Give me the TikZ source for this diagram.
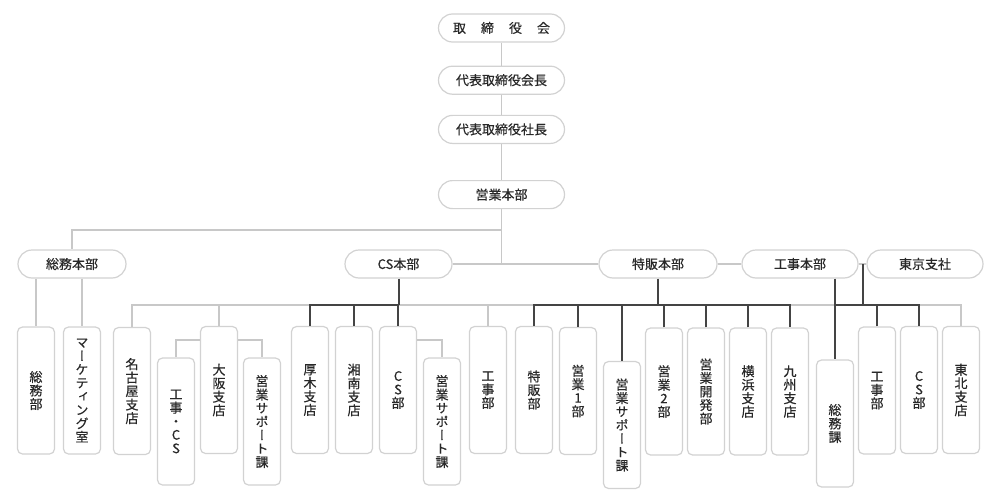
\documentclass[tikz,border=0pt]{standalone}
\usepackage{fontspec}
\setmainfont{Noto Sans CJK JP}[FakeBold=0.4]
\newfontfamily\tatefont[RawFeature=+vert, FakeBold=0.4]{Noto Sans CJK JP}
\usepackage{tikz}
\usetikzlibrary{positioning, calc}
\definecolor{mygray}{RGB}{200,200,200}
\definecolor{mydark}{RGB}{68,68,68}
\definecolor{myborder}{RGB}{210,210,210}
\definecolor{mytext}{RGB}{40,40,40}

\begin{document}
\begin{tikzpicture}[x=1pt, y=-1pt,
    pill/.style={draw=myborder, line width=1.2pt, fill=white, rounded corners=14pt, minimum width=#1, minimum height=28pt, inner sep=0pt, text=mytext, font=\fontsize{13}{15}\selectfont},
    pill/.default=126pt,
    tate/.style={draw=myborder, line width=1.2pt, fill=white, rounded corners=5pt, minimum width=37pt, minimum height=127pt, inner sep=0pt, align=center, text=mytext, font=\tatefont\fontsize{13}{13.5}\selectfont},
    conn/.style={draw=mygray, line width=1.8pt},
    conndark/.style={draw=mydark, line width=2pt}]
    \useasboundingbox (0,0) rectangle (1000,500);

    % Top of the chart
    \node[pill] (board) at (501.5,28) {取\hspace{15pt}締\hspace{15pt}役\hspace{15pt}会};
    \node[pill, below=23pt of board] (chairman) {代表取締役会長};
    \node[pill, below=20pt of chairman] (president) {代表取締役社長};
    \node[pill, below=36pt of president] (salesHQ) {営業本部};

    % Head offices
    \node[pill=108pt] (generalHQ) at (72,264) {総務本部};
    \node[pill=107pt] (csHQ) at (398.5,264) {CS本部};
    \node[pill=118pt] (specialHQ) at (658,264) {特販本部};
    \node[pill=116pt] (constrHQ) at (800,264) {工事本部};
    \node[pill=116pt] (tokyo) at (925,264) {東京支社};

    % Departments and branches (vertical text)
    \node[tate] (soumu) at (36,390.5) {総\\務\\部};
    \node[tate] (marketing) at (82,390.5) {マ\\ー\\ケ\\テ\\ィ\\ン\\グ\\室};
    \node[tate] (nagoya) at (132,391) {名\\古\\屋\\支\\店};
    \node[tate] (kojiCS) at (176,421.5) {工\\事\\・\\C\\S};
    \node[tate] (osaka) at (219,390) {大\\阪\\支\\店};
    \node[tate] (osakaSupport) at (262,421.5) {営\\業\\サ\\ポ\\ー\\ト\\課};
    \node[tate] (atsugi) at (310,390) {厚\\木\\支\\店};
    \node[tate] (shonan) at (354,390) {湘\\南\\支\\店};
    \node[tate] (csDept) at (398,390) {C\\S\\部};
    \node[tate] (csSupport) at (442,421.5) {営\\業\\サ\\ポ\\ー\\ト\\課};
    \node[tate] (kojiA) at (488,390) {工\\事\\部};
    \node[tate] (tokuhan) at (534,390) {特\\販\\部};
    \node[tate] (sales1) at (578,391) {営\\業\\1\\部};
    \node[tate] (specialSupport) at (622,425) {営\\業\\サ\\ポ\\ー\\ト\\課};
    \node[tate] (sales2) at (664,391.5) {営\\業\\2\\部};
    \node[tate] (salesDev) at (706,391.5) {営\\業\\開\\発\\部};
    \node[tate] (yokohama) at (748,391.5) {横\\浜\\支\\店};
    \node[tate] (kyushu) at (790,391.5) {九\\州\\支\\店};
    \node[tate] (soumuka) at (835,423.5) {総\\務\\課};
    \node[tate] (kojiB) at (877,390.5) {工\\事\\部};
    \node[tate] (csB) at (919,390) {C\\S\\部};
    \node[tate] (tohoku) at (961,390) {東\\北\\支\\店};

    % Junctions
    \coordinate (hub) at (salesHQ.south |- csHQ.east);
    \coordinate (upper) at (salesHQ.south |- 0,230);
    \coordinate (tokyoJoint) at ($(constrHQ.east)!0.5!(tokyo.west)$);
    \coordinate (bus) at (0,305);

    % Light connectors
    \draw[conn] (board) -- (chairman);
    \draw[conn] (chairman) -- (president);
    \draw[conn] (president) -- (salesHQ);
    \draw[conn] (salesHQ) -- (hub);
    \draw[conn] (upper) -| (generalHQ.north);
    \draw[conn] (csHQ) -- (specialHQ);
    \draw[conn] (specialHQ) -- (constrHQ);
    \draw[conn] (constrHQ) -- (tokyo);
    \draw[conn] (soumu.north |- generalHQ.south) -- (soumu.north);
    \draw[conn] (marketing.north |- generalHQ.south) -- (marketing.north);
    \draw[conn] (nagoya.north) -- (nagoya.north |- bus) -| (tohoku.north);
    \draw[conn] (osaka.north) -- (osaka.north |- bus);
    \draw[conn] (kojiA.north) -- (kojiA.north |- bus);
    \draw[conn] ([yshift=-14pt]osaka.north west) -| (kojiCS.north);
    \draw[conn] ([yshift=-14pt]osaka.north east) -| (osakaSupport.north);
    \draw[conn] ([yshift=-14pt]csDept.north east) -| (csSupport.north);

    % Dark connectors: CS
    \draw[conndark] (csHQ) -- (csHQ |- bus);
    \draw[conndark] (atsugi.north) -- (atsugi.north |- bus) -- (csDept.north |- bus) -- (csDept.north);
    \draw[conndark] (shonan.north) -- (shonan.north |- bus);

    % Dark connectors: special sales
    \draw[conndark] (specialHQ) -- (specialHQ |- bus);
    \draw[conndark] (tokuhan.north) -- (tokuhan.north |- bus) -- (kyushu.north |- bus) -- (kyushu.north);
    \draw[conndark] (sales1.north) -- (sales1.north |- bus);
    \draw[conndark] (specialSupport.north) -- (specialSupport.north |- bus);
    \draw[conndark] (sales2.north) -- (sales2.north |- bus);
    \draw[conndark] (salesDev.north) -- (salesDev.north |- bus);
    \draw[conndark] (yokohama.north) -- (yokohama.north |- bus);

    % Dark connectors: construction
    \draw[conndark] (soumuka.north |- constrHQ.south) -- (soumuka.north);
    \draw[conndark] (tokyoJoint) -- (tokyoJoint |- bus);
    \draw[conndark] (soumuka.north |- bus) -- (csB.north |- bus) -- (csB.north);
    \draw[conndark] (kojiB.north) -- (kojiB.north |- bus);
\end{tikzpicture}
\end{document}
